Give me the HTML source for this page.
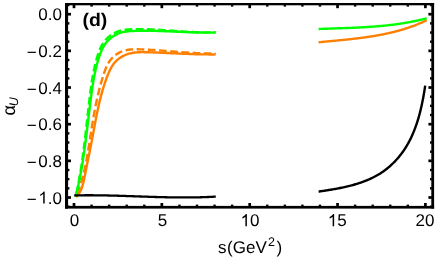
<!DOCTYPE html>
<html><head><meta charset="utf-8"><title>plot</title>
<style>
html,body{margin:0;padding:0;background:#fff;}
body{width:436px;height:262px;overflow:hidden;font-family:"Liberation Sans",sans-serif;}
svg{display:block;}
svg{will-change:transform;}
svg g.t{filter:grayscale(1);text-rendering:geometricPrecision;}
</style></head><body>
<svg width="436" height="262" viewBox="0 0 436 262">
<rect width="436" height="262" fill="#fff"/>
<rect x="65.00" y="3.00" width="369.10" height="2.30" fill="#000"/>
<rect x="65.00" y="205.90" width="369.10" height="2.70" fill="#000"/>
<rect x="65.00" y="3.00" width="3.10" height="205.60" fill="#000"/>
<rect x="431.30" y="3.00" width="2.80" height="205.60" fill="#000"/>
<g fill="#000"><rect x="72.65" y="203.00" width="2.70" height="3.40"/><rect x="72.65" y="4.80" width="2.70" height="3.40"/><rect x="90.37" y="204.60" width="2.40" height="1.80"/><rect x="90.37" y="4.80" width="2.40" height="1.80"/><rect x="107.94" y="204.60" width="2.40" height="1.80"/><rect x="107.94" y="4.80" width="2.40" height="1.80"/><rect x="125.51" y="204.60" width="2.40" height="1.80"/><rect x="125.51" y="4.80" width="2.40" height="1.80"/><rect x="143.08" y="204.60" width="2.40" height="1.80"/><rect x="143.08" y="4.80" width="2.40" height="1.80"/><rect x="160.50" y="203.00" width="2.70" height="3.40"/><rect x="160.50" y="4.80" width="2.70" height="3.40"/><rect x="178.22" y="204.60" width="2.40" height="1.80"/><rect x="178.22" y="4.80" width="2.40" height="1.80"/><rect x="195.79" y="204.60" width="2.40" height="1.80"/><rect x="195.79" y="4.80" width="2.40" height="1.80"/><rect x="213.36" y="204.60" width="2.40" height="1.80"/><rect x="213.36" y="4.80" width="2.40" height="1.80"/><rect x="230.93" y="204.60" width="2.40" height="1.80"/><rect x="230.93" y="4.80" width="2.40" height="1.80"/><rect x="248.35" y="203.00" width="2.70" height="3.40"/><rect x="248.35" y="4.80" width="2.70" height="3.40"/><rect x="266.07" y="204.60" width="2.40" height="1.80"/><rect x="266.07" y="4.80" width="2.40" height="1.80"/><rect x="283.64" y="204.60" width="2.40" height="1.80"/><rect x="283.64" y="4.80" width="2.40" height="1.80"/><rect x="301.21" y="204.60" width="2.40" height="1.80"/><rect x="301.21" y="4.80" width="2.40" height="1.80"/><rect x="318.78" y="204.60" width="2.40" height="1.80"/><rect x="318.78" y="4.80" width="2.40" height="1.80"/><rect x="336.20" y="203.00" width="2.70" height="3.40"/><rect x="336.20" y="4.80" width="2.70" height="3.40"/><rect x="353.92" y="204.60" width="2.40" height="1.80"/><rect x="353.92" y="4.80" width="2.40" height="1.80"/><rect x="371.49" y="204.60" width="2.40" height="1.80"/><rect x="371.49" y="4.80" width="2.40" height="1.80"/><rect x="389.06" y="204.60" width="2.40" height="1.80"/><rect x="389.06" y="4.80" width="2.40" height="1.80"/><rect x="406.63" y="204.60" width="2.40" height="1.80"/><rect x="406.63" y="4.80" width="2.40" height="1.80"/><rect x="424.05" y="203.00" width="2.70" height="3.40"/><rect x="424.05" y="4.80" width="2.70" height="3.40"/><rect x="67.60" y="3.83" width="1.80" height="2.40"/><rect x="430.00" y="3.83" width="1.80" height="2.40"/><rect x="67.60" y="12.85" width="3.40" height="2.70"/><rect x="428.40" y="12.85" width="3.40" height="2.70"/><rect x="67.60" y="22.17" width="1.80" height="2.40"/><rect x="430.00" y="22.17" width="1.80" height="2.40"/><rect x="67.60" y="31.33" width="1.80" height="2.40"/><rect x="430.00" y="31.33" width="1.80" height="2.40"/><rect x="67.60" y="40.50" width="1.80" height="2.40"/><rect x="430.00" y="40.50" width="1.80" height="2.40"/><rect x="67.60" y="49.51" width="3.40" height="2.70"/><rect x="428.40" y="49.51" width="3.40" height="2.70"/><rect x="67.60" y="58.83" width="1.80" height="2.40"/><rect x="430.00" y="58.83" width="1.80" height="2.40"/><rect x="67.60" y="67.99" width="1.80" height="2.40"/><rect x="430.00" y="67.99" width="1.80" height="2.40"/><rect x="67.60" y="77.16" width="1.80" height="2.40"/><rect x="430.00" y="77.16" width="1.80" height="2.40"/><rect x="67.60" y="86.17" width="3.40" height="2.70"/><rect x="428.40" y="86.17" width="3.40" height="2.70"/><rect x="67.60" y="95.49" width="1.80" height="2.40"/><rect x="430.00" y="95.49" width="1.80" height="2.40"/><rect x="67.60" y="104.65" width="1.80" height="2.40"/><rect x="430.00" y="104.65" width="1.80" height="2.40"/><rect x="67.60" y="113.82" width="1.80" height="2.40"/><rect x="430.00" y="113.82" width="1.80" height="2.40"/><rect x="67.60" y="122.83" width="3.40" height="2.70"/><rect x="428.40" y="122.83" width="3.40" height="2.70"/><rect x="67.60" y="132.15" width="1.80" height="2.40"/><rect x="430.00" y="132.15" width="1.80" height="2.40"/><rect x="67.60" y="141.31" width="1.80" height="2.40"/><rect x="430.00" y="141.31" width="1.80" height="2.40"/><rect x="67.60" y="150.48" width="1.80" height="2.40"/><rect x="430.00" y="150.48" width="1.80" height="2.40"/><rect x="67.60" y="159.49" width="3.40" height="2.70"/><rect x="428.40" y="159.49" width="3.40" height="2.70"/><rect x="67.60" y="168.81" width="1.80" height="2.40"/><rect x="430.00" y="168.81" width="1.80" height="2.40"/><rect x="67.60" y="177.97" width="1.80" height="2.40"/><rect x="430.00" y="177.97" width="1.80" height="2.40"/><rect x="67.60" y="187.14" width="1.80" height="2.40"/><rect x="430.00" y="187.14" width="1.80" height="2.40"/><rect x="67.60" y="196.15" width="3.40" height="2.70"/><rect x="428.40" y="196.15" width="3.40" height="2.70"/><rect x="67.60" y="205.47" width="1.80" height="2.40"/><rect x="430.00" y="205.47" width="1.80" height="2.40"/></g>
<path d="M75.92 197.16 L77.02 196.05 L78.01 194.88 L78.91 193.65 L79.71 192.38 L80.43 191.07 L81.07 189.71 L81.64 188.32 L82.16 186.90 L82.62 185.45 L83.03 183.98 L83.41 182.49 L83.75 180.99 L84.07 179.47 L84.38 177.95 L84.68 176.42 L84.98 174.90 L85.28 173.38 L85.58 171.86 L85.88 170.34 L86.19 168.82 L86.49 167.31 L86.80 165.80 L87.10 164.28 L87.41 162.77 L87.72 161.27 L88.03 159.76 L88.33 158.25 L88.64 156.74 L88.94 155.23 L89.25 153.73 L89.55 152.22 L89.86 150.71 L90.16 149.20 L90.46 147.70 L90.76 146.19 L91.05 144.68 L91.35 143.16 L91.64 141.65 L91.93 140.14 L92.22 138.62 L92.50 137.10 L92.79 135.58 L93.07 134.06 L93.35 132.54 L93.63 131.02 L93.91 129.49 L94.19 127.97 L94.48 126.44 L94.76 124.92 L95.04 123.40 L95.33 121.87 L95.62 120.35 L95.91 118.82 L96.21 117.30 L96.51 115.78 L96.81 114.25 L97.12 112.73 L97.44 111.21 L97.76 109.69 L98.08 108.18 L98.41 106.66 L98.75 105.15 L99.10 103.64 L99.45 102.13 L99.81 100.62 L100.18 99.12 L100.56 97.62 L100.95 96.12 L101.35 94.62 L101.76 93.13 L102.17 91.64 L102.60 90.15 L103.05 88.67 L103.50 87.19 L103.97 85.72 L104.44 84.25 L104.94 82.78 L105.44 81.32 L105.96 79.86 L106.49 78.41 L107.04 76.96 L107.61 75.52 L108.19 74.09 L108.78 72.66 L109.41 71.24 L110.06 69.84 L110.75 68.47 L111.48 67.13 L112.27 65.84 L113.11 64.58 L114.02 63.38 L114.99 62.24 L116.02 61.15 L117.12 60.12 L118.26 59.15 L119.47 58.24 L120.71 57.40 L122.01 56.62 L123.34 55.90 L124.72 55.24 L126.12 54.65 L127.56 54.13 L129.02 53.68 L130.51 53.30 L132.02 52.98 L133.54 52.73 L135.08 52.53 L136.64 52.38 L138.20 52.27 L139.78 52.21 L141.36 52.17 L142.94 52.17 L144.53 52.18 L146.12 52.21 L147.70 52.25 L149.28 52.30 L150.85 52.35 L152.42 52.40 L153.99 52.46 L155.55 52.51 L157.11 52.57 L158.66 52.63 L160.21 52.70 L161.75 52.76 L163.30 52.83 L164.84 52.90 L166.37 52.97 L167.91 53.04 L169.44 53.11 L170.97 53.18 L172.50 53.25 L174.03 53.32 L175.55 53.39 L177.08 53.46 L178.60 53.53 L180.13 53.60 L181.65 53.66 L183.18 53.73 L184.70 53.79 L186.23 53.86 L187.75 53.92 L189.28 53.98 L190.81 54.03 L192.34 54.08 L193.87 54.13 L195.40 54.18 L196.94 54.23 L198.48 54.27 L200.02 54.30 L201.56 54.34 L203.11 54.36 L204.66 54.39 L206.21 54.41 L207.77 54.42 L209.34 54.43 L210.90 54.44 L212.48 54.43 L214.05 54.43 L215.64 54.41" fill="none" stroke="#ff8000" stroke-width="2.4" stroke-linejoin="round"/>
<path d="M75.98 197.08 L76.58 195.65 L77.17 194.21 L77.73 192.77 L78.28 191.32 L78.81 189.86 L79.32 188.39 L79.82 186.91 L80.30 185.43 L80.77 183.94 L81.22 182.45 L81.66 180.95 L82.08 179.44 L82.50 177.93 L82.90 176.42 L83.28 174.90 L83.66 173.37 L84.02 171.84 L84.38 170.31 L84.72 168.77 L85.05 167.23 L85.38 165.68 L85.69 164.13 L86.00 162.58 L86.30 161.03 L86.59 159.47 L86.88 157.91 L87.16 156.35 L87.43 154.79 L87.70 153.23 L87.96 151.66 L88.22 150.10 L88.48 148.53 L88.73 146.96 L88.98 145.40 L89.23 143.83 L89.48 142.27 L89.72 140.70 L89.96 139.14 L90.21 137.58 L90.45 136.01 L90.69 134.45 L90.94 132.89 L91.18 131.33 L91.43 129.78 L91.67 128.22 L91.92 126.66 L92.17 125.11 L92.43 123.56 L92.68 122.00 L92.94 120.45 L93.21 118.90 L93.47 117.35 L93.74 115.80 L94.02 114.25 L94.30 112.71 L94.58 111.16 L94.87 109.61 L95.16 108.07 L95.47 106.52 L95.77 104.98 L96.09 103.44 L96.41 101.90 L96.74 100.35 L97.07 98.81 L97.41 97.27 L97.77 95.74 L98.13 94.20 L98.49 92.66 L98.87 91.12 L99.26 89.59 L99.66 88.05 L100.06 86.52 L100.48 84.98 L100.91 83.45 L101.35 81.91 L101.80 80.38 L102.26 78.85 L102.73 77.32 L103.22 75.79 L103.72 74.26 L104.23 72.73 L104.76 71.20 L105.31 69.69 L105.90 68.19 L106.52 66.72 L107.19 65.29 L107.91 63.89 L108.69 62.54 L109.53 61.24 L110.44 60.00 L111.41 58.82 L112.45 57.71 L113.54 56.65 L114.69 55.66 L115.89 54.74 L117.14 53.88 L118.44 53.10 L119.78 52.38 L121.17 51.75 L122.59 51.18 L124.04 50.70 L125.53 50.30 L127.05 49.97 L128.60 49.72 L130.17 49.54 L131.76 49.41 L133.36 49.34 L134.97 49.30 L136.59 49.30 L138.21 49.32 L139.84 49.36 L141.45 49.41 L143.07 49.47 L144.67 49.53 L146.28 49.60 L147.88 49.68 L149.48 49.77 L151.07 49.86 L152.66 49.95 L154.24 50.05 L155.83 50.16 L157.41 50.27 L158.99 50.38 L160.56 50.50 L162.13 50.62 L163.70 50.74 L165.27 50.86 L166.84 50.99 L168.41 51.11 L169.97 51.24 L171.53 51.37 L173.10 51.49 L174.66 51.62 L176.22 51.75 L177.78 51.87 L179.34 51.99 L180.90 52.11 L182.46 52.23 L184.02 52.34 L185.58 52.46 L187.15 52.56 L188.71 52.67 L190.28 52.76 L191.84 52.86 L193.41 52.94 L194.98 53.03 L196.55 53.10 L198.12 53.17 L199.70 53.23 L201.28 53.28 L202.86 53.33 L204.44 53.36 L206.03 53.39 L207.62 53.41 L209.22 53.42 L210.82 53.42 L212.42 53.40 L214.02 53.38 L215.63 53.34" fill="none" stroke="#ff8000" stroke-width="2.4" stroke-linejoin="round" stroke-dasharray="7.7 3.5" stroke-dashoffset="7.7"/>
<path d="M318.60 42.28 L319.29 42.21 L319.98 42.14 L320.67 42.08 L321.36 42.01 L322.06 41.94 L322.75 41.88 L323.44 41.81 L324.13 41.75 L324.82 41.68 L325.52 41.62 L326.21 41.55 L326.90 41.49 L327.60 41.42 L328.29 41.36 L328.98 41.29 L329.68 41.23 L330.37 41.16 L331.07 41.10 L331.76 41.03 L332.45 40.97 L333.15 40.90 L333.84 40.84 L334.54 40.77 L335.23 40.70 L335.93 40.64 L336.62 40.57 L337.32 40.51 L338.01 40.44 L338.71 40.37 L339.40 40.30 L340.10 40.24 L340.79 40.17 L341.49 40.10 L342.18 40.03 L342.88 39.96 L343.57 39.89 L344.27 39.82 L344.96 39.75 L345.66 39.68 L346.35 39.60 L347.05 39.53 L347.74 39.46 L348.44 39.38 L349.13 39.31 L349.83 39.23 L350.52 39.16 L351.22 39.08 L351.91 39.00 L352.61 38.92 L353.30 38.85 L354.00 38.77 L354.69 38.68 L355.39 38.60 L356.08 38.52 L356.77 38.44 L357.47 38.35 L358.16 38.27 L358.85 38.18 L359.55 38.09 L360.24 38.00 L360.93 37.91 L361.63 37.82 L362.32 37.73 L363.01 37.64 L363.70 37.54 L364.39 37.45 L365.09 37.35 L365.78 37.26 L366.47 37.16 L367.16 37.06 L367.85 36.95 L368.54 36.85 L369.23 36.75 L369.92 36.64 L370.61 36.54 L371.30 36.43 L371.99 36.32 L372.68 36.21 L373.36 36.09 L374.05 35.98 L374.74 35.86 L375.43 35.75 L376.11 35.63 L376.80 35.51 L377.49 35.39 L378.17 35.26 L378.86 35.14 L379.54 35.01 L380.23 34.88 L380.91 34.75 L381.59 34.62 L382.28 34.49 L382.96 34.35 L383.64 34.21 L384.32 34.07 L385.00 33.93 L385.69 33.79 L386.37 33.64 L387.05 33.50 L387.73 33.35 L388.40 33.20 L389.08 33.04 L389.76 32.89 L390.44 32.73 L391.12 32.57 L391.79 32.41 L392.47 32.25 L393.14 32.08 L393.82 31.92 L394.49 31.75 L395.17 31.57 L395.84 31.40 L396.51 31.22 L397.18 31.04 L397.85 30.86 L398.53 30.68 L399.20 30.49 L399.86 30.31 L400.53 30.12 L401.20 29.92 L401.87 29.73 L402.54 29.53 L403.20 29.33 L403.87 29.13 L404.53 28.92 L405.20 28.71 L405.86 28.50 L406.52 28.29 L407.18 28.07 L407.85 27.85 L408.51 27.63 L409.17 27.41 L409.83 27.18 L410.48 26.95 L411.14 26.72 L411.80 26.49 L412.45 26.25 L413.11 26.01 L413.76 25.77 L414.42 25.52 L415.07 25.27 L415.72 25.02 L416.37 24.76 L417.02 24.50 L417.67 24.24 L418.32 23.98 L418.97 23.71 L419.62 23.44 L420.26 23.17 L420.91 22.89 L421.55 22.61 L422.20 22.33 L422.84 22.04 L423.48 21.76 L424.12 21.46 L424.76 21.17 L425.40 20.87 L426.04 20.57 L426.68 20.26" fill="none" stroke="#ff8000" stroke-width="2.4" stroke-linejoin="round"/>
<path d="M75.64 196.78 L76.05 195.13 L76.45 193.47 L76.84 191.82 L77.22 190.16 L77.60 188.50 L77.97 186.84 L78.33 185.18 L78.68 183.51 L79.02 181.85 L79.36 180.18 L79.69 178.51 L80.02 176.84 L80.33 175.17 L80.64 173.50 L80.95 171.82 L81.24 170.15 L81.54 168.47 L81.82 166.80 L82.10 165.12 L82.38 163.44 L82.65 161.76 L82.91 160.08 L83.17 158.39 L83.43 156.71 L83.68 155.03 L83.93 153.34 L84.17 151.65 L84.41 149.97 L84.65 148.28 L84.88 146.59 L85.11 144.90 L85.33 143.21 L85.56 141.52 L85.78 139.83 L85.99 138.14 L86.21 136.45 L86.42 134.76 L86.64 133.06 L86.85 131.37 L87.05 129.68 L87.26 127.98 L87.47 126.29 L87.67 124.59 L87.88 122.90 L88.08 121.21 L88.28 119.51 L88.49 117.82 L88.69 116.12 L88.89 114.43 L89.10 112.73 L89.30 111.04 L89.51 109.34 L89.71 107.65 L89.92 105.96 L90.13 104.26 L90.34 102.57 L90.55 100.88 L90.76 99.18 L90.98 97.49 L91.20 95.80 L91.42 94.11 L91.65 92.42 L91.89 90.73 L92.13 89.04 L92.38 87.35 L92.63 85.66 L92.90 83.97 L93.17 82.28 L93.46 80.60 L93.76 78.91 L94.07 77.23 L94.39 75.54 L94.73 73.86 L95.08 72.18 L95.45 70.49 L95.84 68.81 L96.24 67.13 L96.66 65.46 L97.10 63.78 L97.56 62.10 L98.04 60.43 L98.55 58.75 L99.07 57.08 L99.63 55.43 L100.22 53.78 L100.85 52.17 L101.53 50.58 L102.25 49.03 L103.04 47.52 L103.88 46.05 L104.78 44.64 L105.74 43.29 L106.77 42.00 L107.86 40.77 L109.00 39.61 L110.20 38.51 L111.45 37.48 L112.76 36.52 L114.11 35.64 L115.52 34.84 L116.97 34.11 L118.47 33.47 L120.01 32.92 L121.59 32.45 L123.21 32.06 L124.87 31.74 L126.55 31.48 L128.25 31.28 L129.98 31.13 L131.71 31.02 L133.46 30.94 L135.21 30.88 L136.96 30.83 L138.70 30.80 L140.44 30.78 L142.18 30.76 L143.92 30.75 L145.65 30.76 L147.38 30.76 L149.10 30.78 L150.83 30.80 L152.55 30.83 L154.27 30.87 L155.98 30.91 L157.70 30.96 L159.41 31.01 L161.12 31.06 L162.83 31.12 L164.53 31.19 L166.24 31.25 L167.94 31.32 L169.64 31.39 L171.35 31.46 L173.05 31.54 L174.75 31.61 L176.44 31.69 L178.14 31.76 L179.84 31.83 L181.54 31.91 L183.23 31.98 L184.93 32.05 L186.63 32.12 L188.32 32.18 L190.02 32.25 L191.72 32.31 L193.41 32.36 L195.11 32.41 L196.81 32.46 L198.51 32.50 L200.21 32.54 L201.92 32.57 L203.62 32.59 L205.32 32.61 L207.03 32.61 L208.74 32.62 L210.45 32.61 L212.16 32.59 L213.88 32.57 L215.59 32.54" fill="none" stroke="#00ff00" stroke-width="2.4" stroke-linejoin="round"/>
<path d="M75.67 196.78 L76.05 195.11 L76.41 193.43 L76.77 191.75 L77.13 190.06 L77.47 188.38 L77.81 186.70 L78.14 185.01 L78.46 183.32 L78.77 181.63 L79.08 179.94 L79.39 178.25 L79.68 176.56 L79.97 174.86 L80.26 173.17 L80.53 171.47 L80.81 169.77 L81.07 168.07 L81.33 166.37 L81.59 164.67 L81.84 162.97 L82.09 161.27 L82.33 159.56 L82.57 157.86 L82.80 156.15 L83.03 154.45 L83.26 152.74 L83.48 151.03 L83.70 149.33 L83.92 147.62 L84.13 145.91 L84.34 144.20 L84.55 142.49 L84.75 140.78 L84.96 139.07 L85.16 137.35 L85.36 135.64 L85.55 133.93 L85.75 132.22 L85.94 130.50 L86.14 128.79 L86.33 127.08 L86.52 125.36 L86.71 123.65 L86.90 121.93 L87.09 120.22 L87.28 118.51 L87.47 116.79 L87.66 115.08 L87.85 113.37 L88.04 111.65 L88.24 109.94 L88.43 108.23 L88.62 106.51 L88.82 104.80 L89.02 103.09 L89.22 101.37 L89.42 99.66 L89.62 97.95 L89.83 96.24 L90.04 94.53 L90.26 92.82 L90.48 91.11 L90.71 89.40 L90.94 87.69 L91.18 85.98 L91.43 84.28 L91.69 82.57 L91.96 80.86 L92.24 79.15 L92.53 77.44 L92.83 75.74 L93.15 74.03 L93.47 72.33 L93.82 70.62 L94.18 68.91 L94.55 67.21 L94.94 65.50 L95.35 63.80 L95.78 62.09 L96.22 60.39 L96.69 58.68 L97.17 56.98 L97.69 55.29 L98.24 53.61 L98.82 51.96 L99.45 50.33 L100.13 48.73 L100.86 47.18 L101.65 45.66 L102.50 44.20 L103.41 42.79 L104.39 41.44 L105.43 40.15 L106.53 38.93 L107.69 37.76 L108.90 36.67 L110.17 35.65 L111.50 34.70 L112.87 33.83 L114.30 33.04 L115.78 32.33 L117.30 31.70 L118.88 31.16 L120.49 30.71 L122.14 30.32 L123.83 30.01 L125.54 29.76 L127.27 29.56 L129.03 29.41 L130.79 29.30 L132.57 29.22 L134.35 29.17 L136.13 29.14 L137.91 29.13 L139.68 29.13 L141.45 29.14 L143.21 29.17 L144.97 29.20 L146.72 29.25 L148.47 29.30 L150.21 29.37 L151.95 29.44 L153.69 29.52 L155.42 29.61 L157.16 29.70 L158.88 29.80 L160.61 29.91 L162.33 30.02 L164.05 30.13 L165.77 30.25 L167.49 30.37 L169.20 30.49 L170.91 30.62 L172.63 30.74 L174.34 30.87 L176.05 30.99 L177.76 31.11 L179.47 31.24 L181.17 31.35 L182.88 31.47 L184.59 31.58 L186.30 31.69 L188.01 31.79 L189.72 31.89 L191.43 31.98 L193.14 32.06 L194.86 32.14 L196.57 32.21 L198.29 32.26 L200.01 32.31 L201.73 32.35 L203.45 32.38 L205.18 32.40 L206.91 32.40 L208.64 32.39 L210.38 32.37 L212.12 32.34 L213.86 32.28 L215.60 32.22" fill="none" stroke="#00ff00" stroke-width="2.4" stroke-linejoin="round" stroke-dasharray="7.7 3.5" stroke-dashoffset="7.7"/>
<path d="M318.60 29.00 L319.29 28.98 L319.97 28.95 L320.65 28.92 L321.33 28.90 L322.02 28.87 L322.70 28.85 L323.38 28.82 L324.06 28.80 L324.75 28.77 L325.43 28.75 L326.11 28.73 L326.80 28.70 L327.48 28.68 L328.16 28.65 L328.85 28.63 L329.53 28.61 L330.21 28.58 L330.90 28.56 L331.58 28.54 L332.27 28.51 L332.95 28.49 L333.63 28.47 L334.32 28.45 L335.00 28.42 L335.69 28.40 L336.37 28.38 L337.06 28.35 L337.74 28.33 L338.43 28.31 L339.11 28.28 L339.80 28.26 L340.48 28.24 L341.16 28.21 L341.85 28.19 L342.53 28.17 L343.22 28.14 L343.90 28.12 L344.59 28.09 L345.27 28.07 L345.96 28.04 L346.64 28.02 L347.33 27.99 L348.01 27.96 L348.70 27.94 L349.38 27.91 L350.07 27.88 L350.75 27.85 L351.44 27.83 L352.12 27.80 L352.81 27.77 L353.49 27.74 L354.18 27.71 L354.86 27.68 L355.55 27.65 L356.23 27.62 L356.92 27.59 L357.60 27.55 L358.29 27.52 L358.97 27.49 L359.66 27.45 L360.34 27.42 L361.03 27.38 L361.71 27.34 L362.40 27.31 L363.08 27.27 L363.76 27.23 L364.45 27.19 L365.13 27.15 L365.82 27.11 L366.50 27.07 L367.19 27.03 L367.87 26.99 L368.55 26.94 L369.24 26.90 L369.92 26.85 L370.60 26.81 L371.29 26.76 L371.97 26.71 L372.65 26.66 L373.34 26.61 L374.02 26.56 L374.70 26.51 L375.39 26.46 L376.07 26.40 L376.75 26.35 L377.43 26.29 L378.12 26.23 L378.80 26.18 L379.48 26.12 L380.16 26.06 L380.84 26.00 L381.53 25.93 L382.21 25.87 L382.89 25.80 L383.57 25.74 L384.25 25.67 L384.93 25.60 L385.61 25.53 L386.29 25.46 L386.97 25.39 L387.65 25.32 L388.33 25.24 L389.01 25.16 L389.69 25.09 L390.37 25.01 L391.05 24.93 L391.73 24.85 L392.41 24.76 L393.09 24.68 L393.77 24.59 L394.45 24.51 L395.12 24.42 L395.80 24.33 L396.48 24.24 L397.16 24.14 L397.83 24.05 L398.51 23.95 L399.19 23.85 L399.86 23.75 L400.54 23.65 L401.22 23.55 L401.89 23.44 L402.57 23.34 L403.24 23.23 L403.92 23.12 L404.59 23.01 L405.27 22.90 L405.94 22.78 L406.62 22.67 L407.29 22.55 L407.96 22.43 L408.64 22.31 L409.31 22.18 L409.98 22.06 L410.66 21.93 L411.33 21.80 L412.00 21.67 L412.67 21.54 L413.34 21.40 L414.01 21.27 L414.69 21.13 L415.36 20.99 L416.03 20.84 L416.70 20.70 L417.37 20.55 L418.03 20.40 L418.70 20.25 L419.37 20.10 L420.04 19.95 L420.71 19.79 L421.38 19.63 L422.04 19.47 L422.71 19.31 L423.38 19.14 L424.04 18.97 L424.71 18.80 L425.38 18.63 L426.04 18.46 L426.71 18.28" fill="none" stroke="#00ff00" stroke-width="2.4" stroke-linejoin="round"/>
<path d="M74.19 195.44 L75.08 195.41 L75.97 195.39 L76.86 195.38 L77.75 195.36 L78.64 195.34 L79.53 195.33 L80.42 195.32 L81.31 195.31 L82.20 195.30 L83.09 195.29 L83.98 195.28 L84.87 195.27 L85.76 195.27 L86.65 195.27 L87.54 195.26 L88.43 195.26 L89.32 195.26 L90.21 195.26 L91.10 195.27 L91.99 195.27 L92.88 195.27 L93.78 195.28 L94.67 195.29 L95.56 195.29 L96.45 195.30 L97.34 195.31 L98.23 195.32 L99.12 195.33 L100.01 195.34 L100.90 195.36 L101.79 195.37 L102.68 195.39 L103.57 195.40 L104.46 195.42 L105.35 195.44 L106.24 195.45 L107.13 195.47 L108.02 195.49 L108.91 195.51 L109.80 195.53 L110.69 195.55 L111.58 195.58 L112.47 195.60 L113.36 195.62 L114.25 195.65 L115.14 195.67 L116.03 195.70 L116.92 195.72 L117.81 195.75 L118.70 195.77 L119.59 195.80 L120.48 195.83 L121.37 195.85 L122.26 195.88 L123.16 195.91 L124.05 195.94 L124.94 195.97 L125.83 196.00 L126.72 196.03 L127.61 196.06 L128.50 196.09 L129.39 196.12 L130.28 196.15 L131.17 196.18 L132.06 196.21 L132.95 196.24 L133.84 196.27 L134.73 196.30 L135.62 196.33 L136.51 196.36 L137.40 196.39 L138.29 196.42 L139.19 196.45 L140.08 196.48 L140.97 196.51 L141.86 196.54 L142.75 196.57 L143.64 196.61 L144.53 196.64 L145.42 196.67 L146.31 196.69 L147.20 196.72 L148.09 196.75 L148.98 196.78 L149.87 196.81 L150.76 196.84 L151.66 196.87 L152.55 196.90 L153.44 196.92 L154.33 196.95 L155.22 196.98 L156.11 197.00 L157.00 197.03 L157.89 197.05 L158.78 197.08 L159.67 197.10 L160.56 197.12 L161.45 197.15 L162.34 197.17 L163.24 197.19 L164.13 197.21 L165.02 197.23 L165.91 197.25 L166.80 197.27 L167.69 197.29 L168.58 197.31 L169.47 197.32 L170.36 197.34 L171.25 197.35 L172.14 197.37 L173.03 197.38 L173.93 197.39 L174.82 197.41 L175.71 197.42 L176.60 197.43 L177.49 197.44 L178.38 197.44 L179.27 197.45 L180.16 197.46 L181.05 197.46 L181.94 197.47 L182.83 197.47 L183.73 197.47 L184.62 197.47 L185.51 197.47 L186.40 197.47 L187.29 197.46 L188.18 197.46 L189.07 197.45 L189.96 197.45 L190.85 197.44 L191.74 197.43 L192.64 197.42 L193.53 197.41 L194.42 197.39 L195.31 197.38 L196.20 197.36 L197.09 197.35 L197.98 197.33 L198.87 197.31 L199.76 197.28 L200.65 197.26 L201.55 197.23 L202.44 197.21 L203.33 197.18 L204.22 197.15 L205.11 197.12 L206.00 197.09 L206.89 197.05 L207.78 197.01 L208.67 196.98 L209.56 196.94 L210.46 196.89 L211.35 196.85 L212.24 196.81 L213.13 196.76 L214.02 196.71 L214.91 196.66 L215.80 196.61" fill="none" stroke="#000000" stroke-width="2.3" stroke-linejoin="round"/>
<path d="M318.59 191.58 L319.59 191.44 L320.59 191.29 L321.60 191.15 L322.61 191.00 L323.62 190.85 L324.64 190.69 L325.66 190.54 L326.69 190.38 L327.72 190.22 L328.75 190.05 L329.78 189.89 L330.81 189.71 L331.85 189.54 L332.89 189.36 L333.93 189.18 L334.98 189.00 L336.02 188.81 L337.06 188.61 L338.11 188.41 L339.15 188.21 L340.20 188.00 L341.25 187.79 L342.29 187.57 L343.34 187.35 L344.39 187.12 L345.43 186.88 L346.47 186.64 L347.52 186.39 L348.56 186.14 L349.60 185.88 L350.64 185.61 L351.67 185.34 L352.71 185.06 L353.74 184.77 L354.77 184.48 L355.79 184.18 L356.81 183.87 L357.83 183.55 L358.85 183.23 L359.86 182.89 L360.87 182.55 L361.87 182.20 L362.87 181.84 L363.87 181.47 L364.85 181.10 L365.84 180.71 L366.82 180.32 L367.79 179.91 L368.76 179.50 L369.72 179.07 L370.68 178.64 L371.63 178.19 L372.57 177.74 L373.51 177.27 L374.44 176.80 L375.36 176.31 L376.27 175.81 L377.18 175.30 L378.08 174.78 L378.97 174.25 L379.85 173.70 L380.72 173.15 L381.59 172.58 L382.45 172.00 L383.30 171.41 L384.14 170.81 L384.97 170.20 L385.79 169.57 L386.61 168.94 L387.41 168.30 L388.21 167.64 L389.00 166.98 L389.78 166.30 L390.55 165.61 L391.31 164.92 L392.07 164.21 L392.81 163.50 L393.55 162.77 L394.27 162.04 L394.99 161.30 L395.70 160.54 L396.40 159.78 L397.09 159.01 L397.77 158.23 L398.44 157.44 L399.11 156.65 L399.76 155.84 L400.41 155.03 L401.04 154.21 L401.67 153.38 L402.29 152.54 L402.89 151.70 L403.49 150.84 L404.08 149.98 L404.66 149.11 L405.23 148.24 L405.79 147.36 L406.34 146.47 L406.88 145.57 L407.41 144.67 L407.93 143.76 L408.44 142.84 L408.95 141.92 L409.44 140.99 L409.92 140.06 L410.39 139.11 L410.86 138.17 L411.31 137.22 L411.76 136.26 L412.20 135.30 L412.62 134.33 L413.04 133.36 L413.45 132.38 L413.86 131.40 L414.25 130.41 L414.64 129.42 L415.01 128.43 L415.38 127.43 L415.75 126.43 L416.10 125.43 L416.45 124.42 L416.79 123.41 L417.12 122.40 L417.44 121.39 L417.76 120.37 L418.07 119.35 L418.38 118.33 L418.67 117.30 L418.96 116.28 L419.25 115.25 L419.52 114.22 L419.80 113.19 L420.06 112.16 L420.32 111.13 L420.57 110.10 L420.82 109.06 L421.06 108.03 L421.30 107.00 L421.53 105.96 L421.76 104.93 L421.98 103.90 L422.19 102.87 L422.40 101.84 L422.61 100.81 L422.81 99.78 L423.01 98.75 L423.20 97.72 L423.39 96.70 L423.57 95.68 L423.75 94.66 L423.93 93.64 L424.10 92.62 L424.27 91.61 L424.43 90.60 L424.59 89.59 L424.75 88.59 L424.90 87.59 L425.06 86.59 L425.20 85.60" fill="none" stroke="#000000" stroke-width="2.4" stroke-linejoin="round"/>
<g class="t" font-family="'Liberation Sans', sans-serif" font-size="17" fill="#000"><text x="38.37" y="20.30">0</text><text x="47.82" y="20.30">.</text><text x="52.55" y="20.30">0</text><text x="26.64" y="58.16">−</text><text x="38.37" y="56.96">0</text><text x="47.82" y="56.96">.</text><text x="52.55" y="56.96">2</text><text x="26.64" y="94.82">−</text><text x="38.37" y="93.62">0</text><text x="47.82" y="93.62">.</text><text x="52.55" y="93.62">4</text><text x="26.64" y="131.48">−</text><text x="38.37" y="130.28">0</text><text x="47.82" y="130.28">.</text><text x="52.55" y="130.28">6</text><text x="26.64" y="168.14">−</text><text x="38.37" y="166.94">0</text><text x="47.82" y="166.94">.</text><text x="52.55" y="166.94">8</text><text x="26.64" y="204.80">−</text><path transform="translate(38.37,203.60) scale(0.00830,-0.00830)" d="M763 0H583V1147Q518 1085 412.5 1023Q307 961 223 930V1104Q374 1175 487 1276Q600 1377 647 1472H763Z"/><text x="47.82" y="203.60">.</text><text x="52.55" y="203.60">0</text><text x="69.87" y="226.20">0</text><text x="157.72" y="226.20">5</text><path transform="translate(240.55,226.20) scale(0.00830,-0.00830)" d="M763 0H583V1147Q518 1085 412.5 1023Q307 961 223 930V1104Q374 1175 487 1276Q600 1377 647 1472H763Z"/><text x="250.00" y="226.20">0</text><path transform="translate(327.80,226.20) scale(0.00830,-0.00830)" d="M763 0H583V1147Q518 1085 412.5 1023Q307 961 223 930V1104Q374 1175 487 1276Q600 1377 647 1472H763Z"/><text x="337.25" y="226.20">5</text><text x="415.50" y="226.20">2</text><text x="424.95" y="226.20">0</text><text x="218" y="253.1">s<tspan dx="0.55">(GeV</tspan><tspan font-size="12.5" dy="-7.5" dx="1.3">2</tspan><tspan dy="7.5" dx="1.5">)</tspan></text><text transform="translate(15.0,115.4) rotate(-90)" font-size="18">α<tspan font-size="12.5" font-style="italic" dy="2.8" dx="-1.3">U</tspan></text><text transform="translate(82.4,26.3) scale(1.065,1)" font-weight="bold" font-size="18.3">(d)</text></g>
</svg>
</body></html>
